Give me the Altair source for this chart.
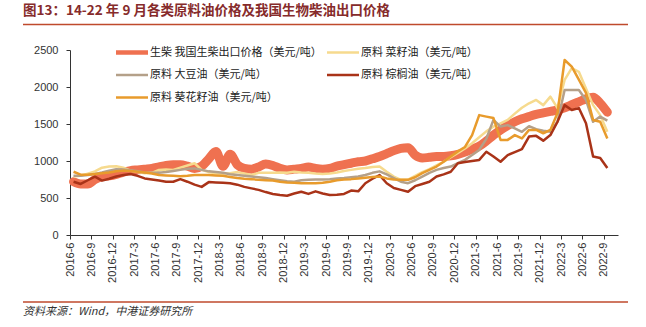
import altair as alt
import pandas as pd

# ---------------- data (monthly, 2016-6 .. 2022-9) ----------------
biodiesel = [720, 690, 690, 750, 790, 800, 820, 850, 870, 880,
             890, 900, 920, 940, 950, 950, 930, 900, 930, 1030,
             1130, 930, 1090, 950, 900, 890, 920, 960, 940, 900,
             880, 890, 900, 920, 900, 890, 900, 930, 950, 970,
             990, 1000, 1030, 1060, 1100, 1140, 1170, 1180, 1080, 1040,
             1050, 1060, 1060, 1070, 1090, 1120, 1160, 1200, 1270, 1350,
             1420, 1480, 1530, 1570, 1600, 1630, 1650, 1670, 1690, 1720,
             1760, 1800, 1840, 1860, 1780, 1660]

rapeseed = [790, 800, 830, 860, 910, 925, 930, 910, 870, 850,
            835, 840, 880, 885, 880, 910, 940, 970, 880, 850,
            835, 830, 835, 850, 830, 810, 840, 840, 840, 845,
            840, 855, 845, 840, 830, 825, 830, 845, 865, 880,
            895, 905, 920, 925, 855, 790, 745, 750, 800, 850,
            890, 940, 990, 1050, 1110, 1170, 1240, 1320, 1400, 1465,
            1510, 1555, 1640, 1720, 1780, 1825, 1755, 1870, 1715, 2095,
            2255, 2205, 1980, 1755, 1620, 1395]

soybean = [800, 800, 810, 825, 845, 870, 890, 885, 875, 860,
           845, 840, 840, 850, 865, 880, 895, 900, 880, 860,
           850, 840, 820, 810, 800, 790, 780, 770, 755, 740,
           725, 720, 740, 745, 750, 750, 755, 765, 770, 780,
           790, 810, 840, 860, 820, 770, 720, 700, 740, 790,
           840, 880, 905, 925, 970, 1015, 1080, 1150, 1300, 1555,
           1465, 1485, 1440, 1395, 1470, 1430, 1410, 1395, 1530, 1960,
           1960, 1960, 1825, 1530, 1600, 1545]

palm = [720, 690, 740, 790, 735, 760, 790, 810, 825, 800,
        765, 750, 735, 720, 720, 755, 720, 680, 650, 715,
        710, 705, 700, 680, 650, 630, 610, 580, 555, 540,
        530, 560, 585, 555, 590, 560, 540, 545, 555, 600,
        590, 700, 760, 810, 700, 635, 610, 585, 660, 690,
        720, 790, 820, 855, 970, 985, 1000, 1015, 1125, 1060,
        990, 1080, 1120, 1160, 1330, 1340, 1275, 1350, 1530, 1755,
        1690, 1715, 1510, 1060, 1040, 905]

sunflower = [855, 815, 815, 825, 835, 845, 860, 870, 865, 855,
             845, 830, 810, 805, 800, 795, 800, 810, 810, 810,
             805, 800, 785, 770, 760, 755, 745, 740, 735, 720,
             710, 705, 700, 700, 700, 705, 720, 740, 750, 755,
             765, 775, 785, 790, 765, 750, 745, 745, 780, 835,
             880, 925, 990, 1060, 1130, 1190, 1350, 1620, 1600, 1580,
             1285, 1285, 1350, 1305, 1420, 1420, 1375, 1420, 1650, 2365,
             2275, 2100, 1920, 1555, 1530, 1305]

names = ["生柴 我国生柴出口价格（美元/吨）", "原料 菜籽油（美元/吨）",
         "原料 大豆油（美元/吨）", "原料 棕榈油（美元/吨）",
         "原料 葵花籽油（美元/吨）"]

tick_idx = list(range(0, 76, 3))
tick_labels = ["2016-6", "2016-9", "2016-12", "2017-3", "2017-6", "2017-9",
               "2017-12", "2018-3", "2018-6", "2018-9", "2018-12", "2019-3",
               "2019-6", "2019-9", "2019-12", "2020-3", "2020-6", "2020-9",
               "2020-12", "2021-3", "2021-6", "2021-9", "2021-12", "2022-3",
               "2022-6", "2022-9"]
y_ticks = [0, 500, 1000, 1500, 2000, 2500]

title_text = "图13：14-22 年 9 月各类原料油价格及我国生物柴油出口价格"
source_text = "资料来源：Wind，中港证券研究所"

# ---------------- styles ----------------
colors = ["#EF7150", "#F6DA8E", "#B4A089", "#A93318", "#E89B2C"]
widths = [9, 2.5, 2.5, 2.5, 2.5]
legend_widths = [4.5, 2.5, 2.5, 2.5, 2.5]
CJK = "Noto Sans CJK SC"
LAT = "Liberation Sans"
W, H = 548, 185

x_scale = alt.Scale(domain=[0, 77], nice=False, zero=False)
y_scale = alt.Scale(domain=[0, 2500], nice=False)

label_expr = "[" + ",".join("'%s'" % t for t in tick_labels) + "][round(datum.value/3)]"

x_axis = alt.Axis(values=tick_idx, labelExpr=label_expr, labelAngle=270,
                  labelAlign="right", labelBaseline="middle", grid=False,
                  tickSize=4, labelPadding=3, domainColor="#333333",
                  tickColor="#333333", labelColor="#333333", labelFont=LAT,
                  labelFontSize=11, title=None, labelOverlap=False,
                  labelBound=False, labelFlush=False)
y_axis = alt.Axis(values=y_ticks, format="d", grid=False, tickSize=4, labelPadding=8,
                  domainColor="#333333", tickColor="#333333",
                  labelColor="#333333", labelFont=LAT, labelFontSize=11,
                  title=None, labelFlush=False)

layers = []
for k, (vals, c, w) in enumerate(zip([biodiesel, rapeseed, soybean, palm, sunflower], colors, widths)):
    df = pd.DataFrame({"m": [i + 0.5 for i in range(len(vals))], "v": vals})
    layers.append(
        alt.Chart(df).mark_line(color=c, strokeWidth=w, strokeJoin="round",
                                strokeCap="round" if k == 0 else "butt",
                                interpolate="monotone" if k == 0 else "linear")
        .encode(x=alt.X("m:Q", scale=x_scale, axis=x_axis),
                y=alt.Y("v:Q", scale=y_scale, axis=y_axis))
    )

# legend (manual, two columns)
for k, name in enumerate(names):
    row, col = k // 2, k % 2
    lx = 46 + 211 * col
    ly = 2.5 + 22.5 * row
    one = pd.DataFrame({"t": [name]})
    layers.append(alt.Chart(one).mark_rule(color=colors[k], strokeWidth=legend_widths[k])
                  .encode(x=alt.value(lx), x2=alt.value(lx + 32), y=alt.value(ly)))
    layers.append(alt.Chart(one).mark_text(align="left", baseline="middle", font=CJK,
                                           fontSize=11, color="#222222")
                  .encode(x=alt.value(lx + 34), y=alt.value(ly), text="t:N"))

# title, rules, source
layers.append(alt.Chart(pd.DataFrame({"t": [title_text]}))
              .mark_text(align="left", baseline="middle", font=CJK, fontSize=13.5,
                         fontWeight="bold", color="#862B2B")
              .encode(x=alt.value(-47), y=alt.value(-39.5), text="t:N"))
layers.append(alt.Chart(pd.DataFrame({"t": [0]}))
              .mark_rule(color="#BF4A2C", strokeWidth=1.5)
              .encode(x=alt.value(-47), x2=alt.value(558), y=alt.value(-25.5)))
layers.append(alt.Chart(pd.DataFrame({"t": [0]}))
              .mark_rule(color="#BF4A2C", strokeWidth=1.5)
              .encode(x=alt.value(-47), x2=alt.value(558), y=alt.value(252)))
layers.append(alt.Chart(pd.DataFrame({"t": [source_text]}))
              .mark_text(align="left", baseline="middle", font=CJK, fontSize=11,
                         fontStyle="italic", color="#333333")
              .encode(x=alt.value(-47), y=alt.value(262), text="t:N"))

chart = (alt.layer(*layers)
         .properties(width=W, height=H,
                     autosize=alt.AutoSizeParams(type="none"),
                     padding={"left": 70, "top": 50, "right": 28, "bottom": 92},
                     background="white")
         .configure_view(stroke=None))

chart.save("out.html", embed_options={"renderer": "svg", "actions": False})
